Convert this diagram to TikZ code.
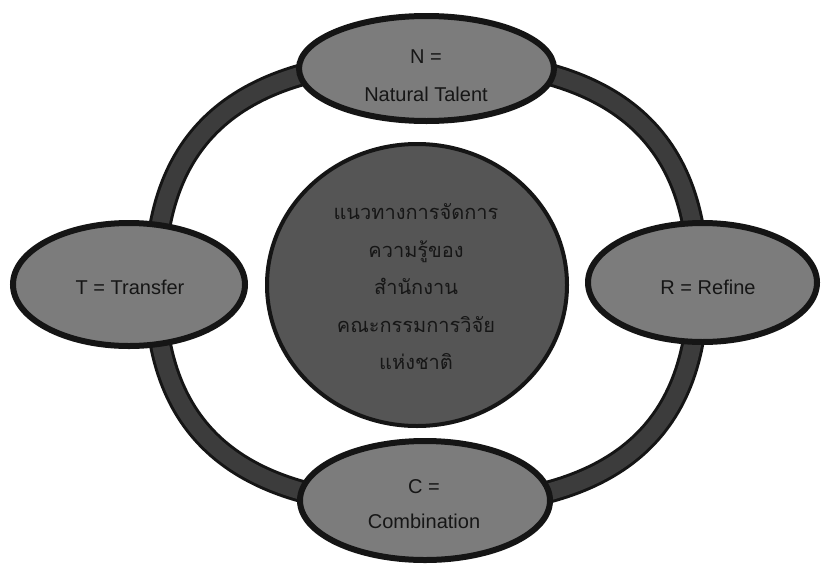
\documentclass[tikz,border=0pt]{standalone}
\usepackage{fontspec}
\setmainfont{Liberation Sans}
\newfontfamily\thaifont[Script=Thai]{Loma}
\usetikzlibrary{shapes.geometric}
\definecolor{ovalgray}{HTML}{7C7C7C}
\definecolor{hubgray}{HTML}{555555}
\definecolor{ringgray}{HTML}{3C3C3C}
\definecolor{edge}{HTML}{151515}
\definecolor{txt}{HTML}{161616}
\begin{document}
\begin{tikzpicture}[x=1pt,y=-1pt,
  oval/.style={ellipse, draw=edge, line width=6pt, fill=ovalgray, inner sep=0pt},
  hub/.style={ellipse, draw=edge, line width=4pt, fill=hubgray, inner sep=0pt},
  lbl/.style={align=center, text=txt, font=\fontsize{20}{38}\selectfont, inner sep=0pt},
  ringout/.style={line width=23pt, draw=edge},
  ringin/.style={line width=17pt, draw=ringgray}]
\useasboundingbox (0,0) rectangle (821,565);
% ring
\coordinate (rt) at (426,60);
\coordinate (rl) at (155,284);
\coordinate (rb) at (426,506);
\coordinate (rr) at (698,284);
\foreach \st in {ringout,ringin}{
\draw[\st] (rt) .. controls +(-184,0) and +(0,-152) .. (rl)
  .. controls +(0,151) and +(-184,0) .. (rb)
  .. controls +(185,0) and +(0,151) .. (rr)
  .. controls +(0,-152) and +(185,0) .. (rt) -- cycle;
}
% shapes
\node[hub, minimum width=300pt, minimum height=282pt] (K) at (417,285) {};
\node[oval, minimum width=255pt, minimum height=105pt] (N) at (426.5,68.5) {};
\node[oval, minimum width=232pt, minimum height=123pt] (T) at (129,284.5) {};
\node[oval, minimum width=229pt, minimum height=119pt] (R) at (702.5,282.5) {};
\node[oval, minimum width=250pt, minimum height=119pt] (C) at (425,500.5) {};
% texts
\node[lbl] (Nt) at (426,76) {N =\\Natural Talent};
\node[lbl] (Tt) at (130,287) {T = Transfer};
\node[lbl] (Rt) at (708,287) {R = Refine};
\node[lbl, font=\fontsize{20}{35}\selectfont] (Ct) at (424,504.5) {C =\\Combination};
\node[lbl, font=\thaifont\fontsize{20}{37.5}\selectfont] (Kt) at (416,287)
  {แนวทางการจัดการ\\ความรู้ของ\\สำนักงาน\\คณะกรรมการวิจัย\\แห่งชาติ};
\end{tikzpicture}
\end{document}
